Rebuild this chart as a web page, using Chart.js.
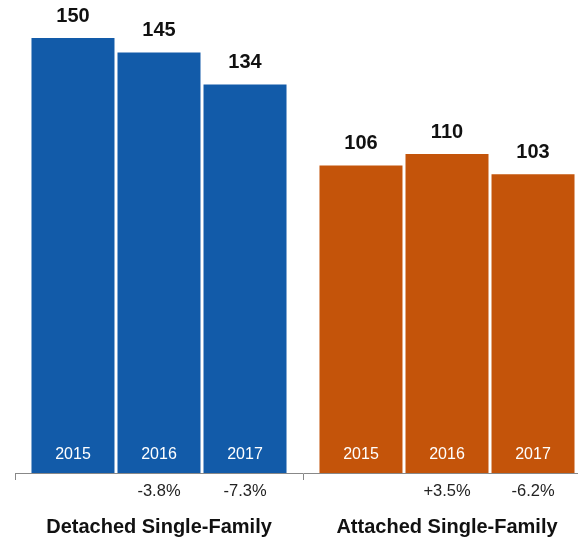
<!DOCTYPE html>
<html lang="en">
<head>
  <meta charset="UTF-8">
  <title>Single-Family Sales by Type</title>
  <script src="https://cdn.jsdelivr.net/npm/chart.js"></script>
  <style>
    html, body {
      margin: 0;
      padding: 0;
      background: #fff;
      overflow: hidden;
    }
    #wrap {
      width: 591px;
      height: 538px;
    }
  </style>
</head>
<body>
  <div id="wrap"><canvas id="salesChart"></canvas></div>

  <script>
    const groups = ['Detached Single-Family', 'Attached Single-Family'];
    const years = ['2015', '2016', '2017'];
    const detached = [150, 145, 134];
    const attached = [106, 110, 103];
    const detachedChange = ['', '-3.8%', '-7.3%'];
    const attachedChange = ['', '+3.5%', '-6.2%'];

    const groupColors = ['#125ba9', '#c4540a'];
    const font = '"Liberation Sans", Arial, Helvetica, sans-serif';

    // one dataset per year, two categories (detached / attached)
    const datasets = years.map((year, i) => ({
      label: year,
      data: [detached[i], attached[i]],
      backgroundColor: groupColors,
      categoryPercentage: 0.896,
      barPercentage: 0.965
    }));

    // value above each bar, year inside the foot, change below the axis, group name at the bottom
    const barLabels = {
      id: 'barLabels',
      afterDatasetsDraw(chart) {
        const ctx = chart.ctx;
        const base = chart.chartArea.bottom;
        ctx.save();
        ctx.textAlign = 'center';
        ctx.textBaseline = 'middle';
        chart.data.datasets.forEach((ds, i) => {
          chart.getDatasetMeta(i).data.forEach((bar, j) => {
            ctx.fillStyle = '#111';
            ctx.font = 'bold 20px ' + font;
            ctx.fillText(String(ds.data[j]), bar.x, bar.y - 22);

            ctx.fillStyle = '#fff';
            ctx.font = '16px ' + font;
            ctx.fillText(ds.label, bar.x, base - 18);

            const change = (j === 0 ? detachedChange : attachedChange)[i];
            if (change) {
              ctx.fillStyle = '#222';
              ctx.font = '16.5px ' + font;
              ctx.fillText(change, bar.x, base + 18);
            }
          });
        });
        const xScale = chart.scales.x;
        ctx.fillStyle = '#111';
        ctx.font = 'bold 20px ' + font;
        groups.forEach((g, k) => {
          ctx.fillText(g, xScale.getPixelForValue(k), base + 54);
        });
        ctx.restore();
      }
    };

    new Chart(document.getElementById('salesChart'), {
      type: 'bar',
      data: {
        labels: groups,
        datasets: datasets
      },
      options: {
        responsive: true,
        maintainAspectRatio: false,
        animation: false,
        layout: {
          padding: { top: 38, left: 15, right: 0, bottom: 58 }
        },
        plugins: {
          legend: { display: false },
          tooltip: { enabled: false }
        },
        scales: {
          x: {
            offset: true,
            grid: {
              offset: true,
              drawOnChartArea: false,
              tickLength: 7,
              color: '#888'
            },
            border: { display: true, color: '#888', width: 1 },
            ticks: { display: false }
          },
          y: {
            display: false,
            min: 0,
            max: 150
          }
        }
      },
      plugins: [barLabels]
    });
  </script>
</body>
</html>
